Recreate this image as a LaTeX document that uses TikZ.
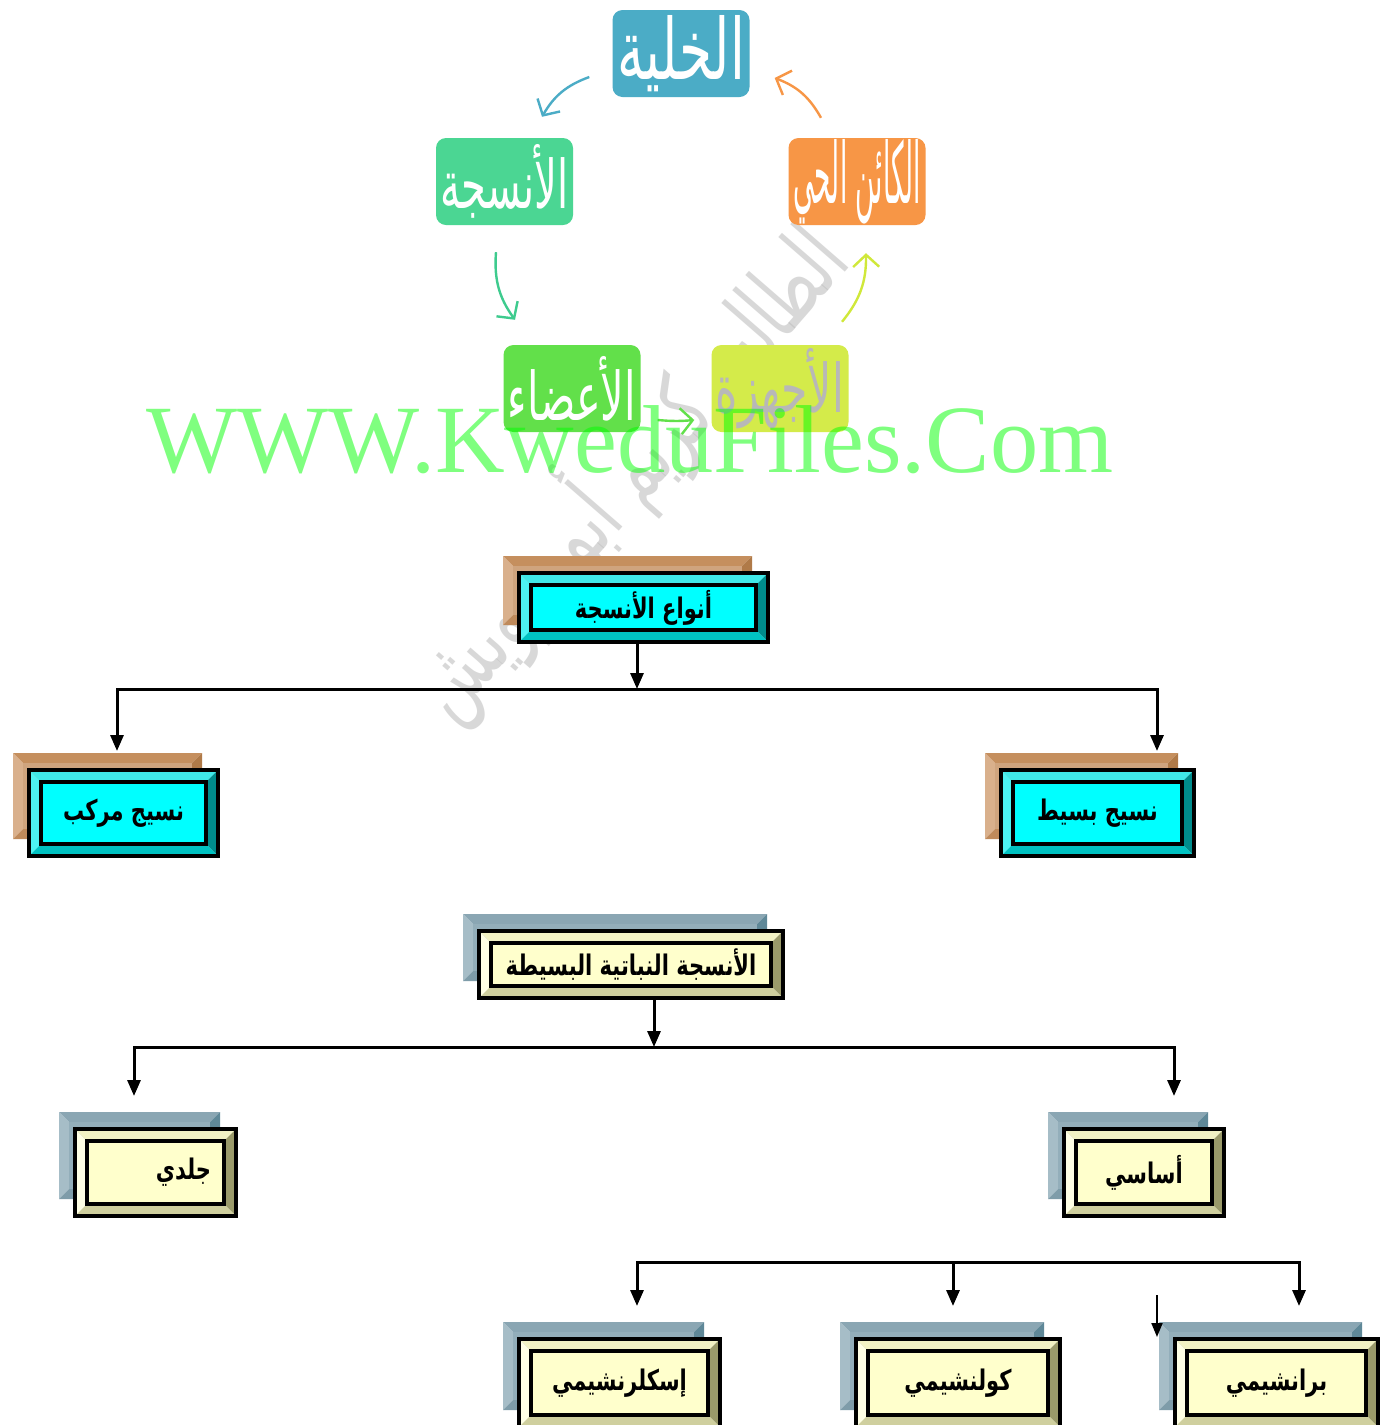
\documentclass[tikz,border=0pt]{standalone}
\usepackage{fontspec}
\usepackage{graphicx}
\setmainfont{Liberation Serif}
\newfontfamily\arabicfont[Script=Arabic]{DejaVu Sans}
\TeXXeTstate=1
\usetikzlibrary{arrows.meta,calc}
\definecolor{cellc}{HTML}{4BACC6}
\definecolor{tisc}{HTML}{4BD693}
\definecolor{orgc}{HTML}{F79646}
\definecolor{organc}{HTML}{62E04A}
\definecolor{sysc}{HTML}{D4EB4A}
\definecolor{tisarr}{HTML}{3ECB8E}
\definecolor{sysarr}{HTML}{D0E83A}
\definecolor{cyT}{HTML}{40E8E8}\definecolor{cyL}{HTML}{4DF2F2}\definecolor{cyR}{HTML}{008C8C}\definecolor{cyB}{HTML}{00C2C2}\definecolor{cyF}{HTML}{00FFFF}
\definecolor{crT}{HTML}{F2F2C4}\definecolor{crL}{HTML}{FFFFE5}\definecolor{crR}{HTML}{9A9A6A}\definecolor{crB}{HTML}{CFCF9E}\definecolor{crF}{HTML}{FFFFCC}
\definecolor{brT}{HTML}{C58F5E}\definecolor{brL}{HTML}{D9B08C}\definecolor{brR}{HTML}{B07A48}\definecolor{brB}{HTML}{BF8A5B}\definecolor{brF}{HTML}{CFA47E}
\definecolor{stT}{HTML}{8AA6B3}\definecolor{stL}{HTML}{A6BDC7}\definecolor{stR}{HTML}{5F8898}\definecolor{stB}{HTML}{7E9CA9}\definecolor{stF}{HTML}{93AEBA}
\definecolor{puregreen}{RGB}{0,255,0}
\newcommand\artx[1]{\scalebox{1}[1.35]{#1}}
\newcommand\mycyc[2]{\raisebox{#1}{\resizebox{128pt}{64pt}{\arabicfont #2}}}
\newcommand\boxfont{\arabicfont\bfseries\fontsize{21}{26}\selectfont}
\newcommand\bev[6]{%
 \fill[#6T] ({#1},{#2}) -- ({#3},{#2}) -- ({#3-#5},{#2+#5}) -- ({#1+#5},{#2+#5}) -- cycle;
 \fill[#6L] ({#1},{#2}) -- ({#1+#5},{#2+#5}) -- ({#1+#5},{#4-#5}) -- ({#1},{#4}) -- cycle;
 \fill[#6R] ({#3},{#2}) -- ({#3},{#4}) -- ({#3-#5},{#4-#5}) -- ({#3-#5},{#2+#5}) -- cycle;
 \fill[#6B] ({#1},{#4}) -- ({#3},{#4}) -- ({#3-#5},{#4-#5}) -- ({#1+#5},{#4-#5}) -- cycle;
 \fill[#6F] ({#1+#5},{#2+#5}) rectangle ({#3-#5},{#4-#5});
}
\newcommand\tbox[8]{%
 \bev{#2-16}{#3-17}{#4-16}{#5-17}{10}{#7}%
 \bev{#2}{#3}{#4}{#5}{11}{#6}%
 \draw[line width=3.5pt] ({#2+12},{#3+12}) rectangle ({#4-12},{#5-12});
 \node[draw, line width=4.5pt, inner sep=0pt, outer sep=0pt, minimum width={#4-(#2)}, minimum height={#5-(#3)}, font=\boxfont] (#1) at ({(#2+#4)/2},{(#3+#5)/2}) {#8};
}
\begin{document}
\begin{tikzpicture}[x=1pt,y=-1pt,
  cyc/.style={rounded corners=10pt, minimum width=137pt, minimum height=87pt, inner sep=0pt, text=white},
  cyarr/.style={line width=2.4pt, -{Straight Barb[length=12pt,width=26pt]}},
  conn/.style={line width=3pt},
  arr/.style={line width=3pt, -{Triangle[length=16pt,width=13pt]}}]
\useasboundingbox (0,0) rectangle (1386,1425);
\fill[white] (0,0) rectangle (1386,1425);
\clip (0,0) rectangle (1386,1425);
% grey calligraphic watermark
\node[rotate=49, text=gray!50, text opacity=0.6, inner sep=0pt] (wmg) at (625,470) {\resizebox{610pt}{95pt}{\arabicfont\beginR الطالب كريم أبو درويش\endR}};
% cycle
\node[cyc, fill=cellc] (cell) at (681,53.5) {\mycyc{-2pt}{\beginR الخلية\endR}};
\node[cyc, fill=tisc] (tis) at (504.5,181.5) {\mycyc{0pt}{\beginR الأنسجة\endR}};
\node[cyc, fill=orgc] (org) at (857,181.5) {\mycyc{-6pt}{\beginR الكائن الحي\endR}};
\node[cyc, fill=organc] (organs) at (572,388.5) {\mycyc{-14pt}{\beginR الأعضاء\endR}};
\node[cyc, fill=sysc, text=white!72!black] (sys) at (780,388.5) {\mycyc{-11pt}{\beginR الأجهزة\endR}};
\draw[cyarr, draw=cellc] ($(cell.west)+(-23,23.5)$) to[bend right=20] ($(tis.north)+(37.5,-21)$);
\draw[cyarr, draw=tisarr] ($(tis.south)+(-8.5,27)$) to[bend right=20] ($(organs.north)+(-57,-25)$);
\draw[cyarr, draw=organc] ($(organs.east)+(17,31.5)$) to[bend right=5] ($(sys.west)+(-17,31.5)$);
\draw[cyarr, draw=sysarr] ($(sys.north)+(62,-23)$) to[bend right=20] ($(org.south)+(9,28)$);
\draw[cyarr, draw=orgc] ($(org.north)+(-36,-20)$) to[bend right=20] ($(cell.east)+(25,24.5)$);
% hierarchy boxes
\tbox{n1}{519}{573}{768}{642}{cy}{br}{\artx{\beginR أنواع الأنسجة\endR}}
\tbox{mrk}{29}{770}{218}{856}{cy}{br}{\artx{\beginR نسيج مركب\endR}}
\tbox{bst}{1001}{770}{1194}{856}{cy}{br}{\artx{\beginR نسيج بسيط\endR}}
\tbox{n2}{479}{931}{783}{998}{cr}{st}{\artx{\beginR الأنسجة النباتية البسيطة\endR}}
\tbox{jld}{75}{1129}{236}{1216}{cr}{st}{\hspace*{56pt}\artx{\beginR جلدي\endR}}
\tbox{ass}{1064}{1129}{1224}{1216}{cr}{st}{\artx{\beginR أساسي\endR}}
\tbox{scl}{519}{1339}{720}{1427}{cr}{st}{\artx{\beginR إسكلرنشيمي\endR}}
\tbox{kol}{856}{1339}{1060}{1427}{cr}{st}{\artx{\beginR كولنشيمي\endR}}
\tbox{brn}{1175}{1339}{1378}{1427}{cr}{st}{\artx{\beginR برانشيمي\endR}}
% connectors level 1
\coordinate (j1) at (637,689);
\coordinate (j1l) at (117,689);
\coordinate (j1r) at (1157,689);
\draw[arr] (j1 |- n1.south) -- (j1);
\draw[conn, line cap=rect] (j1l) -- (j1r);
\draw[arr, shorten >=19pt] (j1l) -- (j1l |- mrk.north);
\draw[arr, shorten >=19pt] (j1r) -- (j1r |- bst.north);
% level 2
\coordinate (j2) at (654,1047);
\coordinate (j2l) at (134,1047);
\coordinate (j2r) at (1174,1047);
\draw[arr] (j2 |- n2.south) -- (j2);
\draw[conn, line cap=rect] (j2l) -- (j2r);
\draw[arr, shorten >=33pt] (j2l) -- (j2l |- jld.north);
\draw[arr, shorten >=33pt] (j2r) -- (j2r |- ass.north);
% level 3
\coordinate (j3l) at (637,1262);
\coordinate (j3m) at (953,1262);
\coordinate (j3r) at (1299,1262);
\draw[conn, line cap=rect] (j3l) -- (j3r);
\draw[arr, shorten >=33pt] (j3l) -- (j3l |- scl.north);
\draw[arr, shorten >=33pt] (j3m) -- (j3m |- kol.north);
\draw[arr, shorten >=33pt] (j3r) -- (j3r |- brn.north);
\coordinate (s1) at (1157,1295);
\coordinate (s2) at (1157,1337);
\draw[line width=2pt, -{Triangle[length=14pt,width=11pt]}] (s1) -- (s2);
% green watermark
\node[anchor=base, inner sep=0pt, text=puregreen, text opacity=0.5, font=\fontsize{96.5}{100}\selectfont] (wm) at (630,472) {WWW.KweduFiles.Com};
\end{tikzpicture}
\end{document}
